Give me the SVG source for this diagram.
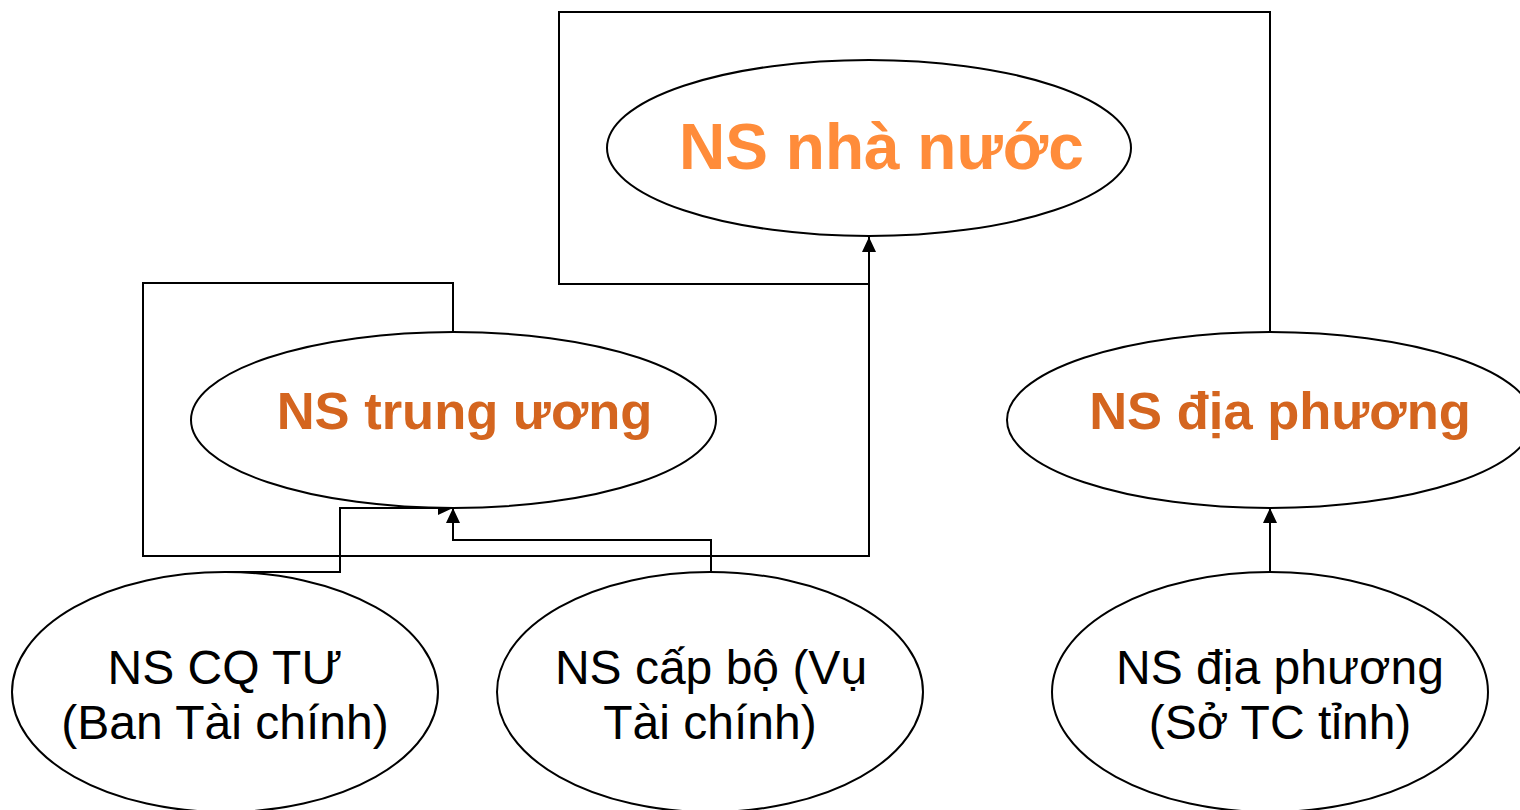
<svg xmlns="http://www.w3.org/2000/svg" width="1520" height="810" viewBox="0 0 1520 810">
<style>
.node{fill:#fff;stroke:#000;stroke-width:2}
.conn{fill:none;stroke:#000;stroke-width:2}
.t1{font-family:"Liberation Sans",Arial,sans-serif;font-weight:bold;font-size:64px;fill:#FF8C3A;text-anchor:middle}
.t2{font-family:"Liberation Sans",Arial,sans-serif;font-weight:bold;font-size:52.5px;fill:#D4651F;text-anchor:middle}
.t3{font-family:"Liberation Sans",Arial,sans-serif;font-size:48px;fill:#000;text-anchor:middle}
</style>
<defs>
<marker id="arr" markerUnits="userSpaceOnUse" markerWidth="16" markerHeight="14" refX="15" refY="7" orient="auto">
<path d="M0,0 L15,7 L0,14 Z" fill="#000"/>
</marker>
</defs>
<rect width="1520" height="810" fill="#fff"/>
<g id="connectors">
<path class="conn" d="M453,332 L453,283 L143,283 L143,556 L869,556 L869,237" marker-end="url(#arr)"/>
<path class="conn" d="M1270,332 L1270,12 L559,12 L559,284 L869,284"/>
<path class="conn" d="M225,572 L340,572 L340,508 L453,508" marker-end="url(#arr)"/>
<path class="conn" d="M711,572 L711,540 L453,540 L453,508" marker-end="url(#arr)"/>
<path class="conn" d="M1270,572 L1270,508" marker-end="url(#arr)"/>
</g>
<g id="node-nsnn">
<ellipse class="node" cx="869" cy="148" rx="262" ry="88"/>
<text class="t1" x="881.5" y="169">NS nhà nước</text>
</g>
<g id="node-nstw">
<ellipse class="node" cx="453.5" cy="420" rx="262.5" ry="88"/>
<text class="t2" x="464.5" y="429">NS trung ương</text>
</g>
<g id="node-nsdp">
<ellipse class="node" cx="1270" cy="420" rx="263" ry="88"/>
<text class="t2" x="1280" y="429">NS địa phương</text>
</g>
<g id="node-cqtu">
<ellipse class="node" cx="225" cy="692" rx="213" ry="120"/>
<text class="t3" x="225" y="684">NS CQ TƯ</text>
<text class="t3" x="225" y="739">(Ban Tài chính)</text>
</g>
<g id="node-capbo">
<ellipse class="node" cx="710" cy="692" rx="213" ry="120"/>
<text class="t3" x="711" y="684">NS cấp bộ (Vụ</text>
<text class="t3" x="710" y="739">Tài chính)</text>
</g>
<g id="node-sotc">
<ellipse class="node" cx="1270" cy="692" rx="218" ry="120"/>
<text class="t3" x="1280" y="684">NS địa phương</text>
<text class="t3" x="1280" y="739">(Sở TC tỉnh)</text>
</g>
</svg>
